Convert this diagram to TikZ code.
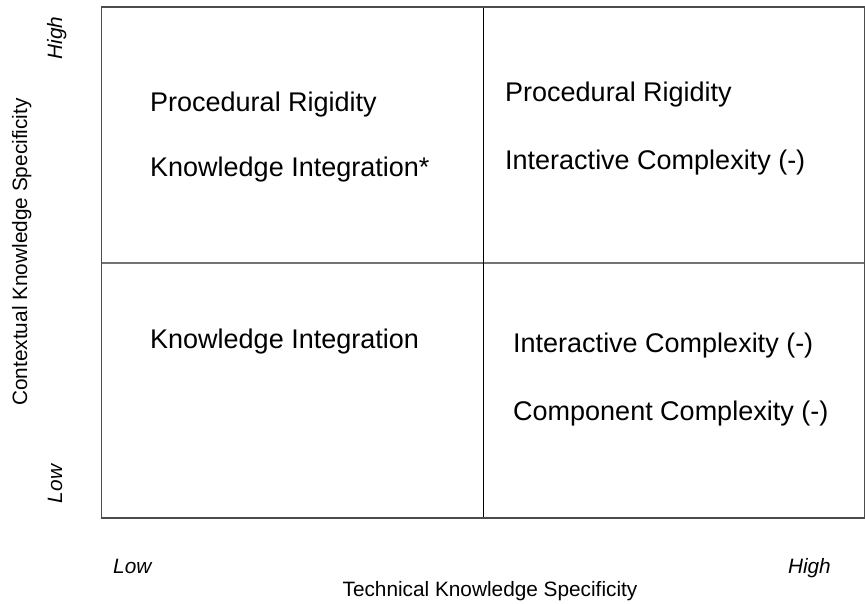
\documentclass[tikz,border=0pt]{standalone}
\usepackage{fontspec}
\setmainfont{Liberation Sans}
\usetikzlibrary{positioning}
\def\xlft{101.5}
\def\xrgt{864.5}
\def\ytop{7}
\def\ybot{518}
\def\xmid{483}
\def\ymid{263}

\begin{document}
\begin{tikzpicture}
    [
        x=1bp, y=-1bp,
        cell/.style={inner sep=0pt, anchor=base west, font=\fontsize{27bp}{32bp}\selectfont},
        axis/.style={inner sep=0pt, anchor=base, font=\fontsize{20.8bp}{25bp}\selectfont},
        level/.style={axis, font=\fontsize{20.8bp}{25bp}\selectfont\itshape},
        frame/.style={black!70, line width=1.2bp},
        hsplit/.style={black!55, line width=2.2bp},
        vsplit/.style={black, line width=1bp}
    ]
    \useasboundingbox (0,0) rectangle (865,604);
%    \draw[style=help lines,step=50] (0,0) grid (865,604);
    \coordinate (nw) at (\xlft,\ytop);
    \coordinate (se) at (\xrgt,\ybot);
    \coordinate (mt) at (\xmid,\ytop);
    \coordinate (mb) at (\xmid,\ybot);
    \coordinate (ml) at (\xlft,\ymid);
    \coordinate (mr) at (\xrgt,\ymid);

    \draw[hsplit] (ml) -- (mr);
    \draw[vsplit] (mt) -- (mb);
    \draw[frame] (nw) rectangle (se);

    % quadrants
    \node[cell] (tl1) at (150,112) {Procedural Rigidity};
    \node[cell] (tl2) at (150,177) {Knowledge Integration*};
    \node[cell] (tr1) at (505,102) {Procedural Rigidity};
    \node[cell] (tr2) at (505,170) {Interactive Complexity (-)};
    \node[cell] (bl1) at (150,348) {Knowledge Integration};
    \node[cell] (br1) at (513,352) {Interactive Complexity (-)};
    \node[cell] (br2) at (513,420) {Component Complexity (-)};

    % axes
    \node[level, anchor=base west] (xlow) at (113,573) {Low};
    \node[level, anchor=base east] (xhigh) at (831,573) {High};
    \node[axis] (xlab) at (490,596) {Technical Knowledge Specificity};
    \node[level, rotate=90] (yhigh) at (62,38) {High};
    \node[level, rotate=90] (ylow) at (62,484) {Low};
    \node[axis, rotate=90] (ylab) at (27,252) {Contextual Knowledge Specificity};
\end{tikzpicture}
\end{document}
